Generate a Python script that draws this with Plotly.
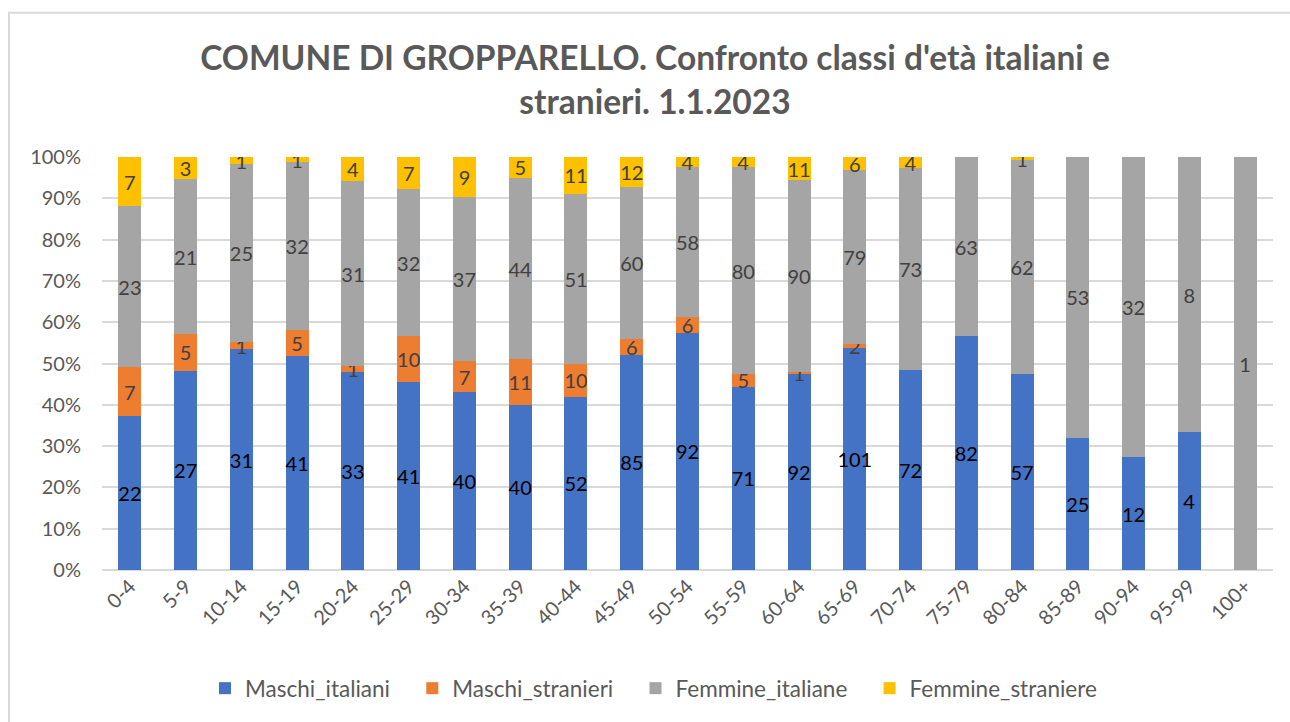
import plotly.graph_objects as go

categories = ["0-4", "5-9", "10-14", "15-19", "20-24", "25-29", "30-34", "35-39", "40-44",
              "45-49", "50-54", "55-59", "60-64", "65-69", "70-74", "75-79", "80-84",
              "85-89", "90-94", "95-99", "100+"]
maschi_italiani = [22, 27, 31, 41, 33, 41, 40, 40, 52, 85, 92, 71, 92, 101, 72, 82, 57, 25, 12, 4, 0]
maschi_stranieri = [7, 5, 1, 5, 1, 10, 7, 11, 10, 6, 6, 5, 1, 2, 0, 0, 0, 0, 0, 0, 0]
femmine_italiane = [23, 21, 25, 32, 31, 32, 37, 44, 51, 60, 58, 80, 90, 79, 73, 63, 62, 53, 32, 8, 1]
femmine_straniere = [7, 3, 1, 1, 4, 7, 9, 5, 11, 12, 4, 4, 11, 6, 4, 0, 1, 0, 0, 0, 0]

FONT = "Lato"
PAD = "\u00a0\u00a0\u00a0"

series = [
    ("Maschi_italiani", maschi_italiani, "#4472C4", "#000000"),
    ("Maschi_stranieri", maschi_stranieri, "#ED7D31", "#404040"),
    ("Femmine_italiane", femmine_italiane, "#A5A5A5", "#404040"),
    ("Femmine_straniere", femmine_straniere, "#FFC000", "#404040"),
]

fig = go.Figure()
for name, vals, color, tcolor in series:
    fig.add_trace(go.Bar(
        name=name + PAD, x=categories, y=vals,
        marker=dict(color=color, line=dict(width=0)),
        text=[str(v) if v else "" for v in vals],
        textposition="inside", insidetextanchor="middle", textangle=0,
        textfont=dict(family=FONT, size=20, color=tcolor),
        hoverinfo="x+y+name",
    ))

fig.update_layout(
    barmode="stack", barnorm="percent", bargap=0.587,
    width=1290, height=722,
    margin=dict(l=102, r=17, t=157, b=150),
    paper_bgcolor="white", plot_bgcolor="white",
    uniformtext=dict(minsize=20, mode="show"),
    font=dict(family=FONT, color="#595959", size=20),
    title=dict(
        text="<b>COMUNE DI GROPPARELLO. Confronto classi d'età italiani e<br>stranieri. 1.1.2023</b>",
        x=(198 + 1112) / 2 / 1290, xref="container", xanchor="center",
        y=1 - 70 / 722, yref="container", yanchor="middle",
        font=dict(family=FONT, size=33.5, color="#595959"),
    ),
    legend=dict(
        orientation="h", x=(662.5 - 102) / 1171, xanchor="center", y=-0.287, yanchor="middle",
        font=dict(family=FONT, size=22.5, color="#595959"),
        traceorder="normal", itemwidth=30,
    ),
    xaxis=dict(
        tickangle=-45, showgrid=False, showline=False, ticks="",
        tickfont=dict(family=FONT, size=20, color="#595959"),
    ),
    yaxis=dict(
        range=[0, 100], dtick=10, ticksuffix="%", showgrid=True,
        gridcolor="#D9D9D9", gridwidth=1.5, zeroline=True, zerolinecolor="#D9D9D9",
        zerolinewidth=1.5, ticks="", ticklabelstandoff=20,
        tickfont=dict(family=FONT, size=20, color="#595959"),
    ),
    shapes=[dict(
        type="rect", xref="paper", yref="paper",
        x0=(9 - 102) / 1171, x1=(1300 - 102) / 1171,
        y0=(572 - 740) / 415, y1=(572 - 12) / 415,
        line=dict(color="#D9D9D9", width=2), fillcolor="rgba(0,0,0,0)", layer="below",
    )],
)

fig.write_html(
    "out.html",
    config={"displayModeBar": False},
    post_script="document.body.style.margin='0';document.body.style.overflow='hidden';",
)
